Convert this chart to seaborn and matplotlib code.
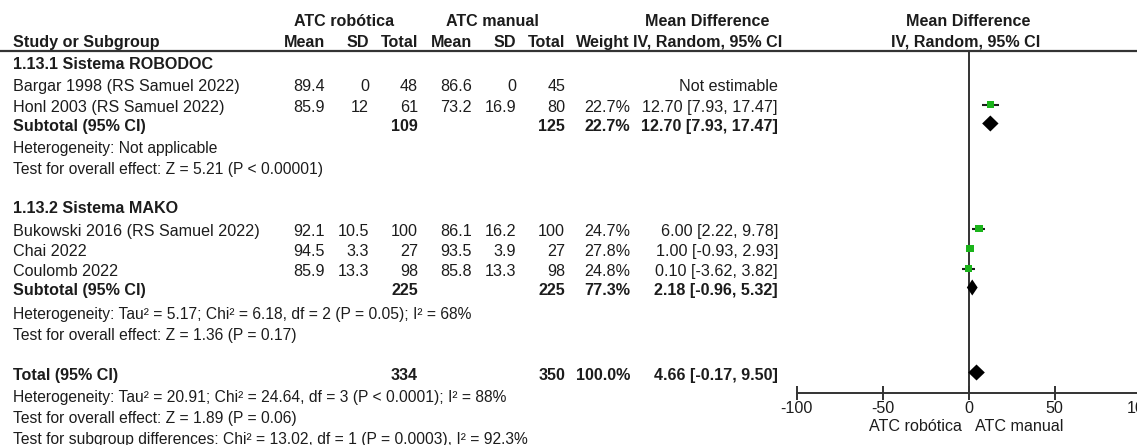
import numpy as np
import pandas as pd
import matplotlib
matplotlib.use("Agg")
import matplotlib.pyplot as plt
import seaborn as sns

# ---- study-level data -------------------------------------------------------
studies = ["Bargar 1998 (RS Samuel 2022)", "Honl 2003 (RS Samuel 2022)",
           "Bukowski 2016 (RS Samuel 2022)", "Chai 2022", "Coulomb 2022"]
rob_mean = [89.4, 85.9, 92.1, 94.5, 85.9]
rob_sd = [0, 12, 10.5, 3.3, 13.3]
rob_n = [48, 61, 100, 27, 98]
man_mean = [86.6, 73.2, 86.1, 93.5, 85.8]
man_sd = [0, 16.9, 16.2, 3.9, 13.3]
man_n = [45, 80, 100, 27, 98]
weight = [np.nan, 22.7, 24.7, 27.8, 24.8]
md = [np.nan, 12.70, 6.00, 1.00, 0.10]
ci_lo = [np.nan, 7.93, 2.22, -0.93, -3.62]
ci_hi = [np.nan, 17.47, 9.78, 2.93, 3.82]

# ---- pooled estimates (two subtotals and the overall total) -----------------
pooled_labels = ["Subtotal (95% CI)", "Subtotal (95% CI)", "Total (95% CI)"]
pooled_rob_n = [109, 225, 334]
pooled_man_n = [125, 225, 350]
pooled_weight = [22.7, 77.3, 100.0]
pooled_md = [12.70, 2.18, 4.66]
pooled_lo = [7.93, -0.96, -0.17]
pooled_hi = [17.47, 5.32, 9.50]

subgroup_titles = ["1.13.1 Sistema ROBODOC", "1.13.2 Sistema MAKO"]
stat_lines = [
    "Heterogeneity: Not applicable",
    "Test for overall effect: Z = 5.21 (P < 0.00001)",
    "Heterogeneity: Tau\u00b2 = 5.17; Chi\u00b2 = 6.18, df = 2 (P = 0.05); I\u00b2 = 68%",
    "Test for overall effect: Z = 1.36 (P = 0.17)",
    "Heterogeneity: Tau\u00b2 = 20.91; Chi\u00b2 = 24.64, df = 3 (P < 0.0001); I\u00b2 = 88%",
    "Test for overall effect: Z = 1.89 (P = 0.06)",
    "Test for subgroup differences: Chi\u00b2 = 13.02, df = 1 (P = 0.0003), I\u00b2 = 92.3%",
]
axis_ticks = [-100, -50, 0, 50, 100]
favours = ["ATC robótica", "ATC manual"]

# ---- layout (pixel units) ----------------------------------------------------
W, H = 1137, 445
study_y = [85, 106, 230, 250, 270]
pooled_y = [125, 289, 374]
title_y = [63, 207]
stat_y = [147, 168, 313, 334, 396, 417, 438]
col_right = dict(rm=325, rsd=369, rn=418, mm=472, msd=516, mn=565, w=630, ci=778)
x_left = 13
plot_x0, plot_x1 = 796.5, 1140.5
axis_y = 393
rule_y = 51

sns.set_theme(style="white")
plt.rcParams["font.family"] = ["Liberation Sans", "DejaVu Sans"]
FS = 11.6
FS_NOTE = 11.25
TXT = "#1c1c1c"
GREEN = "#1ab41a"

fig = plt.figure(figsize=(W / 100, H / 100), dpi=100)
fig.patch.set_facecolor("white")

tax = fig.add_axes([0, 0, 1, 1])
tax.set_xlim(0, W)
tax.set_ylim(H, 0)
tax.axis("off")

BASE = 5.8  # baseline offset from the visual centre of a text row


def put(x, y, s, ha="left", bold=False, size=FS):
    tax.text(x, y + BASE, s, ha=ha, va="baseline", fontsize=size, color=TXT,
             fontweight="bold" if bold else "normal")


def fmt(v):
    return f"{v:g}"


def ci_text(m, lo, hi):
    return f"{m:.2f} [{lo:.2f}, {hi:.2f}]"


# headers
put(344, 20, "ATC robótica", ha="center", bold=True)
put(492, 20, "ATC manual", ha="center", bold=True)
put(707, 20, "Mean Difference", ha="center", bold=True)
put(968, 20, "Mean Difference", ha="center", bold=True)
put(x_left, 41, "Study or Subgroup", bold=True)
for key, lab in [("rm", "Mean"), ("rsd", "SD"), ("rn", "Total"), ("mm", "Mean"),
                 ("msd", "SD"), ("mn", "Total"), ("w", "Weight")]:
    put(col_right[key], 41, lab, ha="right", bold=True)
put(782, 41, "IV, Random, 95% CI", ha="right", bold=True)
put(966, 41, "IV, Random, 95% CI", ha="center", bold=True)
tax.plot([0, W], [rule_y, rule_y], color="#333333", lw=1.6, solid_capstyle="butt")

# subgroup titles and stats lines
for t, y in zip(subgroup_titles, title_y):
    put(x_left, y, t, bold=True)
for t, y in zip(stat_lines, stat_y):
    put(x_left, y, t, size=FS_NOTE)

# study rows
for i, y in enumerate(study_y):
    put(x_left, y, studies[i])
    put(col_right["rm"], y, fmt(rob_mean[i]), ha="right")
    put(col_right["rsd"], y, fmt(rob_sd[i]), ha="right")
    put(col_right["rn"], y, fmt(rob_n[i]), ha="right")
    put(col_right["mm"], y, fmt(man_mean[i]), ha="right")
    put(col_right["msd"], y, fmt(man_sd[i]), ha="right")
    put(col_right["mn"], y, fmt(man_n[i]), ha="right")
    if np.isnan(md[i]):
        put(col_right["ci"], y, "Not estimable", ha="right")
    else:
        put(col_right["w"], y, f"{weight[i]:.1f}%", ha="right")
        put(col_right["ci"], y, ci_text(md[i], ci_lo[i], ci_hi[i]), ha="right")

# pooled rows
for j, y in enumerate(pooled_y):
    put(x_left, y, pooled_labels[j], bold=True)
    put(col_right["rn"], y, fmt(pooled_rob_n[j]), ha="right", bold=True)
    put(col_right["mn"], y, fmt(pooled_man_n[j]), ha="right", bold=True)
    put(col_right["w"], y, f"{pooled_weight[j]:.1f}%", ha="right", bold=True)
    put(col_right["ci"], y, ci_text(pooled_md[j], pooled_lo[j], pooled_hi[j]),
        ha="right", bold=True)

# ---- forest panel ------------------------------------------------------------
fax = fig.add_axes([plot_x0 / W, 0, (plot_x1 - plot_x0) / W, 1])
fax.set_xlim(-100, 100)
fax.set_ylim(H, 0)
fax.patch.set_alpha(0)
for side in ("left", "right", "top"):
    fax.spines[side].set_visible(False)
fax.spines["bottom"].set_position(("data", axis_y))
fax.spines["bottom"].set_bounds(-100, 100)
fax.spines["bottom"].set_color("#333333")
fax.spines["bottom"].set_linewidth(1.4)
fax.set_yticks([])
fax.set_xticks(axis_ticks)
fax.set_xticklabels([str(t) for t in axis_ticks])
fax.tick_params(axis="x", direction="inout", length=10, width=1.4, color="#333333",
                pad=0.5, labelsize=FS, labelcolor=TXT, bottom=True)

# line of no effect
fax.plot([0, 0], [rule_y, axis_y], color="#333333", lw=1.4, zorder=1)

MOFF = -1.5
df = pd.DataFrame({"md": md, "lo": ci_lo, "hi": ci_hi, "w": weight,
                   "y": [v + MOFF for v in study_y]}).dropna()
fax.hlines(df["y"], df["lo"], df["hi"], color="#1c1c1c", lw=1.5, zorder=2)
side_px = 7.5 * np.sqrt(df["w"].to_numpy() / 25.0)
sns.scatterplot(data=df, x="md", y="y", marker="s", s=(side_px * 0.72) ** 2,
                color=GREEN, edgecolor="none", linewidth=0, legend=False,
                ax=fax, zorder=3)
fax.set_xlabel("")
fax.set_ylabel("")

for j, y in enumerate(pooled_y):
    yc = y + MOFF
    h = 8.0
    fax.fill([pooled_lo[j], pooled_md[j], pooled_hi[j], pooled_md[j]],
             [yc, yc - h, yc, yc + h], color="black", lw=0, zorder=3)

fax.text(-4, 425 + BASE, favours[0], ha="right", va="baseline", fontsize=FS, color=TXT)
fax.text(3.5, 425 + BASE, favours[1], ha="left", va="baseline", fontsize=FS, color=TXT)

fig.savefig("out.png", dpi=100)
